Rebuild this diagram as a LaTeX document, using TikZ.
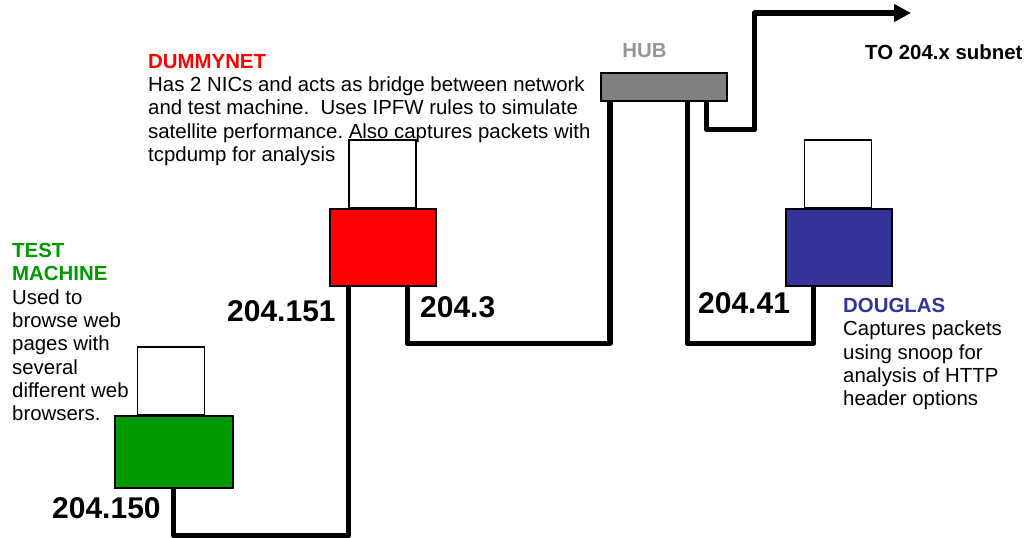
\documentclass[tikz,border=0pt]{standalone}
\usepackage{xcolor}
\usepackage{fontspec}
\setmainfont{Liberation Sans}
\frenchspacing
\usetikzlibrary{arrows.meta,positioning}
\definecolor{testgreen}{HTML}{009900}
\definecolor{dougblue}{HTML}{333399}
\definecolor{hubgray}{HTML}{808080}
\definecolor{hubtext}{HTML}{969696}
\tikzset{
  base/.style={draw,line width=2pt,minimum width=106pt,minimum height=77pt,inner sep=0pt},
  screen/.style={draw,line width=1.5pt,minimum width=67pt,minimum height=67pt,inner sep=0pt,fill=white},
  note/.style={anchor=north west,inner sep=0pt,align=left,font=\fontsize{20.4}{23.35}\selectfont},
  addr/.style={inner sep=0pt,font=\fontsize{30}{32}\selectfont\bfseries},
  tag/.style={inner sep=0pt,font=\fontsize{20.4}{23}\selectfont\bfseries},
  wire/.style={line width=5.5pt,line join=round},
  arr/.style={wire,-{Triangle[length=17pt,width=17pt]}},
}

\begin{document}
\begin{tikzpicture}[x=1pt,y=-1pt]
  \useasboundingbox (0,0) rectangle (1029,538);

  \node[screen,minimum height=68pt] (testscreen) at (171,381) {};
  \node[screen,minimum height=68pt] (dummyscreen) at (382.5,174) {};
  \node[screen,minimum height=68pt] (dougscreen) at (838,174) {};
  \node[base,fill=testgreen,minimum width=118pt,minimum height=72pt] (testbox) at (173.5,451.5) {};
  \node[base,fill=red]       (dummybox) at (382.5,247) {};
  \node[base,fill=dougblue]  (dougbox)  at (838.5,247) {};
  \node[base,fill=hubgray,minimum width=126pt,minimum height=28pt] (hub) at (663.5,86.5) {};
  \coordinate (subnet) at (911,13);

  \node[tag,text=hubtext] (hublabel) at (644.5,51) {HUB};
  \node[tag,anchor=west]  (subnetlabel) at (865,52) {TO 204.x subnet};

  \node[note] (testnote) at (12,243) {\textcolor{testgreen}{\textbf{TEST}}\\
    \textcolor{testgreen}{\textbf{MACHINE}}\\Used to\\browse web\\pages with\\several\\different web\\browsers.};
  \node[note] (dummynote) at (148,54) {\textcolor{red}{\textbf{DUMMYNET}}\\
    Has 2 NICs and acts as bridge between network\\and test machine.\ \ Uses IPFW rules to simulate\\
    satellite performance. Also captures packets with\\tcpdump for analysis};
  \node[note] (dougnote) at (843,298) {\textcolor{dougblue}{\textbf{DOUGLAS}}\\
    Captures packets\\using snoop for\\analysis of HTTP\\header options};

  \node[addr,anchor=west] (addrtest)  at (52,508)  {204.150};
  \node[addr,anchor=west] (addrdummy) at (227,311) {204.151};
  \node[addr,anchor=west] (addrnic)   at (420,307) {204.3};
  \node[addr,anchor=west] (addrdoug)  at (698,303) {204.41};

  \draw[wire] ([xshift=60pt]testbox.south west) -- ++(0,47) -| ([xshift=20pt]dummybox.south west);
  \draw[wire] ([xshift=79pt]dummybox.south west) -- ++(0,57) -| ([xshift=10.5pt]hub.south west);
  \draw[wire] ([xshift=88pt]hub.south west) -- ++(0,242) -| ([xshift=29pt]dougbox.south west);
  \draw[arr]  ([xshift=107pt]hub.south west) -- ++(0,28) -- ++(48,0) |- (subnet);
\end{tikzpicture}
\end{document}
